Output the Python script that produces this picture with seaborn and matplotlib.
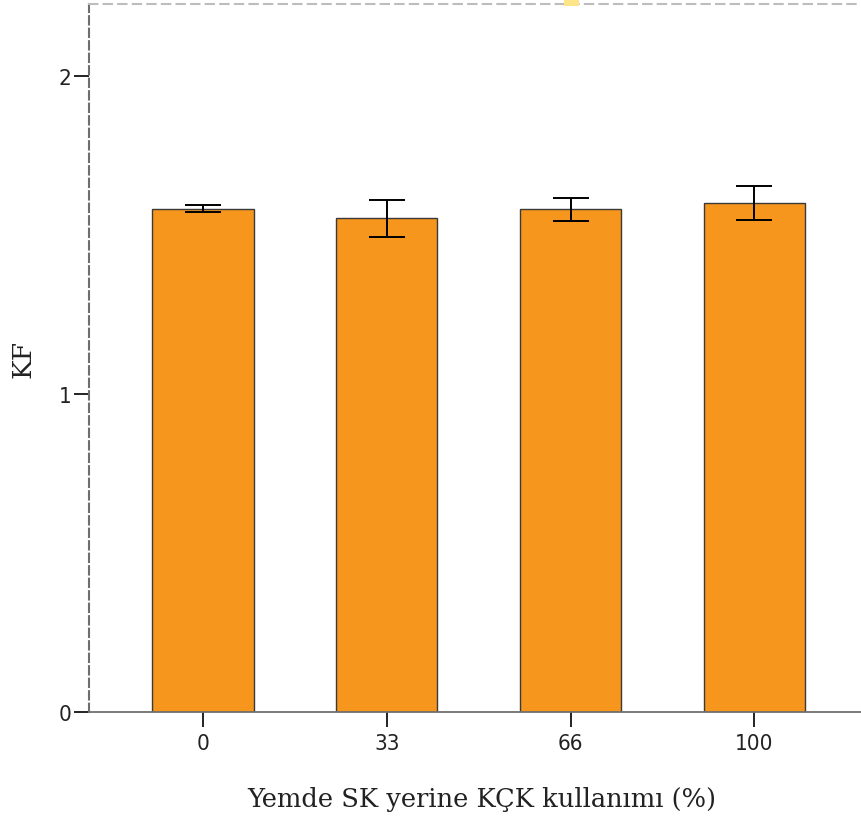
import numpy as np
import pandas as pd
import matplotlib
matplotlib.use("Agg")
from matplotlib import pyplot as plt
from matplotlib.patches import Rectangle
import seaborn as sns

# degerler
gruplar = ["0", "33", "66", "100"]
kf_ort = [1.582, 1.552, 1.580, 1.600]
kf_hata = [0.011, 0.058, 0.035, 0.053]

df = pd.DataFrame({"grup": gruplar, "KF": kf_ort})

sns.set_style("white")
plt.rcParams["font.family"] = ["DejaVu Serif", "Liberation Serif"]

fig = plt.figure(figsize=(8.61, 8.2), dpi=100)
ax = fig.add_axes([0.1034, 0.1305, 0.8966, 0.8634])

sns.barplot(data=df, x="grup", y="KF", color="#F7961D", saturation=1,
            width=0.55, edgecolor="#3a3a3a", linewidth=1.0, errorbar=None, ax=ax)
ax.errorbar(np.arange(len(gruplar)), kf_ort, yerr=kf_hata, fmt="none",
            ecolor="black", elinewidth=1.4, capsize=13, capthick=1.4)

ax.set_xlim(-0.62, 3.58)
ax.set_ylim(0, 2.226)
ax.set_yticks([0, 1, 2])
ax.set_yticklabels(["0", "1", "2"])

ax.set_xlabel("Yemde SK yerine KÇK kullanımı (%)", fontsize=18.5, color="#222222")
ax.xaxis.set_label_coords(0.509, -0.104)
ax.set_ylabel("KF", fontsize=19, color="#222222", labelpad=17)
ax.tick_params(axis="both", colors="#222222", length=11, width=1.4,
               direction="out", bottom=True, left=True)
ax.tick_params(axis="x", pad=4)
ax.tick_params(axis="y", pad=1.5)
for lbl in ax.get_xticklabels() + ax.get_yticklabels():
    lbl.set_family(["DejaVu Sans"])
    lbl.set_stretch("condensed")
    lbl.set_fontsize(16)

ax.spines["left"].set_linestyle((0, (4, 2)))
ax.spines["left"].set_color("#6e6e6e")
ax.spines["left"].set_linewidth(1.5)
ax.spines["top"].set_visible(True)
ax.spines["top"].set_linestyle((0, (4, 3)))
ax.spines["top"].set_color("#bdbdbd")
ax.spines["top"].set_linewidth(1.5)
ax.spines["bottom"].set_color("#707070")
ax.spines["bottom"].set_linewidth(1.3)
ax.spines["right"].set_visible(False)

# kucuk sari isaret (ustte)
fig.patches.append(Rectangle((0.655, 0.992), 0.018, 0.008, transform=fig.transFigure,
                             facecolor="#FFE58A", edgecolor="none"))

fig.savefig("out.png", dpi=100)
